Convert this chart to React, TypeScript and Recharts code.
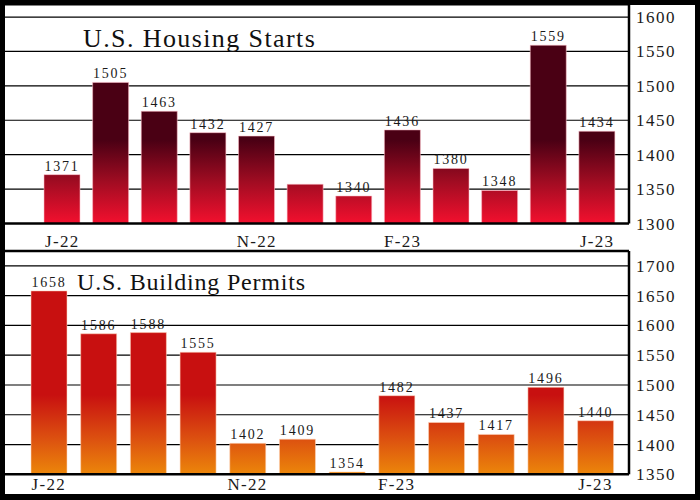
import React from 'react';
import { BarChart, Bar, XAxis, YAxis, CartesianGrid, LabelList, ReferenceLine } from 'recharts';

const MONTHS = ['Jul-22', 'Aug-22', 'Sep-22', 'Oct-22', 'Nov-22', 'Dec-22', 'Jan-23', 'Feb-23', 'Mar-23', 'Apr-23', 'May-23', 'Jun-23'];
const TICK_LABELS = ['J-22', '', '', '', 'N-22', '', '', 'F-23', '', '', '', 'J-23'];
const STARTS = [1371, 1505, 1463, 1432, 1427, 1357, 1340, 1436, 1380, 1348, 1559, 1434];
const STARTS_LABELS = ['1371', '1505', '1463', '1432', '1427', '', '1340', '1436', '1380', '1348', '1559', '1434'];
const PERMITS = [1658, 1586, 1588, 1555, 1402, 1409, 1354, 1482, 1437, 1417, 1496, 1440];
const PERMITS_LABELS = ['1658', '1586', '1588', '1555', '1402', '1409', '1354', '1482', '1437', '1417', '1496', '1440'];
const STARTS_TICKS = [1300, 1350, 1400, 1450, 1500, 1550, 1600];
const PERMITS_TICKS = [1350, 1400, 1450, 1500, 1550, 1600, 1650, 1700];
const TITLE_STARTS = 'U.S. Housing Starts';
const TITLE_PERMITS = 'U.S. Building Permits';

const startsData = MONTHS.map((m, i) => ({ month: m, value: STARTS[i], label: STARTS_LABELS[i] }));
const permitsData = MONTHS.map((m, i) => ({ month: m, value: PERMITS[i], label: PERMITS_LABELS[i] }));

const FONT = '"Liberation Serif", "Times New Roman", serif';
const TEXT = '#1a1a1a';

const yTick = { fontSize: 17, fill: TEXT, fontFamily: FONT, letterSpacing: 1.5, textAnchor: 'start' as const };
const xTick = { fontSize: 17, fill: TEXT, fontFamily: FONT, letterSpacing: 1.3 };
const labelStyle = { fontSize: 14, fill: TEXT, fontFamily: FONT, letterSpacing: 1.8 };

export default function App() {
  return (
    <div style={{ position: 'absolute', left: 0, top: 0, width: 700, height: 500, background: '#000', overflow: 'hidden' }}>
      <div style={{ position: 'absolute', left: 5, top: 5, width: 690, height: 489, background: '#fff' }} />
      <div style={{ position: 'absolute', left: 0, top: 0 }}>
        <BarChart width={700} height={250} data={startsData} margin={{ top: 5, right: 0, bottom: 0, left: 5 }}>
          <defs>
            <linearGradient id="startsGrad" gradientUnits="userSpaceOnUse" x1="0" y1="140" x2="0" y2="223">
              <stop offset="0%" stopColor="#4a0014" />
              <stop offset="50%" stopColor="#a00c22" />
              <stop offset="100%" stopColor="#f2102e" />
            </linearGradient>
          </defs>
          <CartesianGrid vertical={false} stroke="#000" strokeWidth={1.2} />
          <XAxis
            dataKey="month"
            interval={0}
            height={26.5}
            padding={{ left: 33, right: 7.5 }}
            tickLine={false}
            tickSize={0}
            tickMargin={11.5}
            axisLine={{ stroke: '#000', strokeWidth: 2.5 }}
            tick={xTick}
            tickFormatter={(_v: any, i: number) => TICK_LABELS[i]}
          />
          <YAxis
            orientation="right"
            width={71}
            type="number"
            domain={[1300, 1617.5]}
            ticks={STARTS_TICKS}
            interval={0}
            tickLine={false}
            tickSize={0}
            tickMargin={7}
            axisLine={{ stroke: '#000', strokeWidth: 2.5 }}
            tick={yTick}
          />
          <Bar dataKey="value" fill="url(#startsGrad)" barSize={36} stroke="rgba(255,190,200,0.55)" strokeWidth={1} isAnimationActive={false}>
            <LabelList dataKey="label" position="top" offset={4} style={labelStyle} />
          </Bar>
        </BarChart>
      </div>
      <div style={{ position: 'absolute', left: 0, top: 246 }}>
        <BarChart width={700} height={254} data={permitsData} margin={{ top: 5, right: 0, bottom: 0, left: 5 }}>
          <defs>
            <linearGradient id="permitsGrad" gradientUnits="userSpaceOnUse" x1="0" y1="149" x2="0" y2="228">
              <stop offset="0%" stopColor="#c81010" />
              <stop offset="55%" stopColor="#dc5010" />
              <stop offset="100%" stopColor="#ec860a" />
            </linearGradient>
          </defs>
          <CartesianGrid vertical={false} stroke="#000" strokeWidth={1.2} />
          <XAxis
            dataKey="month"
            interval={0}
            height={25.7}
            padding={{ left: 19, right: 8.7 }}
            tickLine={false}
            tickSize={0}
            tickMargin={3.5}
            axisLine={{ stroke: '#000', strokeWidth: 2.5 }}
            tick={xTick}
            tickFormatter={(_v: any, i: number) => TICK_LABELS[i]}
          />
          <YAxis
            orientation="right"
            width={71}
            type="number"
            domain={[1350, 1725]}
            ticks={PERMITS_TICKS}
            interval={0}
            tickLine={false}
            tickSize={0}
            tickMargin={7}
            axisLine={{ stroke: '#000', strokeWidth: 2.5 }}
            tick={yTick}
          />
          <ReferenceLine y={1725} stroke="#000" strokeWidth={2.5} />
          <Bar dataKey="value" fill="url(#permitsGrad)" barSize={36} stroke="rgba(255,215,190,0.55)" strokeWidth={1} isAnimationActive={false}>
            <LabelList dataKey="label" position="top" offset={4} style={labelStyle} />
          </Bar>
        </BarChart>
      </div>
      <svg width={700} height={500} style={{ position: 'absolute', left: 0, top: 0, pointerEvents: 'none' }}>
        <text x={83} y={47} fontFamily={FONT} fontSize={26} letterSpacing={1.4} fill="#111">{TITLE_STARTS}</text>
        <text x={77} y={290} fontFamily={FONT} fontSize={24} letterSpacing={0.8} fill="#111">{TITLE_PERMITS}</text>
      </svg>
    </div>
  );
}
